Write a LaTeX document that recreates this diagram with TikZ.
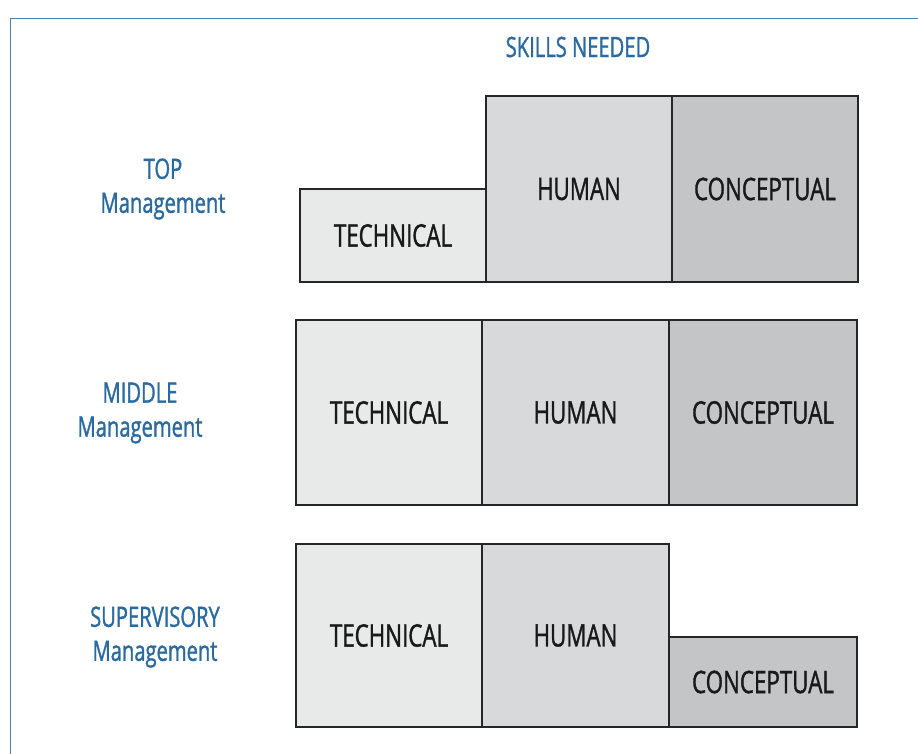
\documentclass[tikz,border=0pt]{standalone}
\usepackage{fontspec}
\setmainfont{Open Sans}[FakeStretch=0.72, FakeBold=1.2]
\usepackage{xcolor}
\usepackage{tikz}
\usetikzlibrary{positioning}
\definecolor{skillblue}{HTML}{2A6AA0}
\definecolor{framecol}{HTML}{3F86A6}
\definecolor{techgray}{HTML}{E8EAEA}
\definecolor{humgray}{HTML}{D7D9DA}
\definecolor{concgray}{HTML}{C3C5C6}

\begin{document}
\begin{tikzpicture}[x=1pt,y=-1pt,
  skill/.style={draw=black!85, line width=1.5pt, inner sep=0pt, outer sep=0pt,
    minimum width=186pt, text=black!90, font=\fontsize{31}{36}\selectfont},
  tech/.style={skill, fill=techgray},
  human/.style={skill, fill=humgray},
  concept/.style={skill, fill=concgray},
  level/.style={align=center, text=skillblue, font=\fontsize{28}{34}\selectfont}]
  \useasboundingbox (0,0) rectangle (918,753);
  \draw[framecol, line width=1.3pt] (10.5,18.5) rectangle (940,770); % frame

  \node[level] (skills) at (578,47) {SKILLS NEEDED}; %

  % top
  \node[level] (top) at (163,189) {TOP\\Management}; %
  \node[tech, minimum height=93pt, anchor=south west] (top-t) at (300,282) {TECHNICAL}; %
  \node[human, minimum height=186pt, right=0pt of top-t.south east, anchor=south west] (top-h) {HUMAN}; %
  \node[concept, minimum height=186pt, right=0pt of top-h.south east, anchor=south west] (top-c) {CONCEPTUAL}; %

  % middle
  \node[level] (mid) at (140,413) {MIDDLE\\Management}; %
  \node[tech, minimum height=185pt, anchor=north west] (mid-t) at (296,320) {TECHNICAL}; %
  \node[human, minimum height=185pt, minimum width=187pt, right=0pt of mid-t] (mid-h) {HUMAN}; %
  \node[concept, minimum height=185pt, minimum width=188pt, right=0pt of mid-h] (mid-c) {CONCEPTUAL}; %

  % supervisory
  \node[level] (sup) at (155,637) {SUPERVISORY\\Management}; %
  \node[tech, minimum height=183pt, anchor=north west] (sup-t) at (296,544) {TECHNICAL}; %
  \node[human, minimum height=183pt, minimum width=187pt, right=0pt of sup-t] (sup-h) {HUMAN}; %
  \node[concept, minimum height=90pt, minimum width=188pt, right=0pt of sup-h.south east, anchor=south west] (sup-c) {CONCEPTUAL}; %
\end{tikzpicture}
\end{document}
